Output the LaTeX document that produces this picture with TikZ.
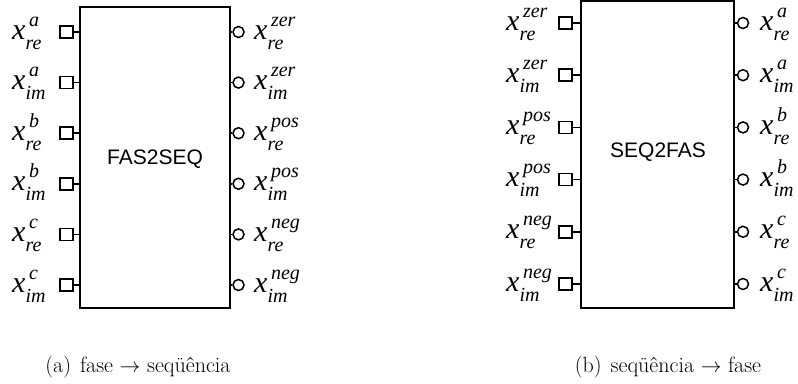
\documentclass[tikz,border=0pt]{standalone}
\usepackage{fontspec}
\newfontfamily\tms{Liberation Serif}
\newfontfamily\arl{Liberation Sans}
\newcommand\xlab[2]{{\fontsize{30}{30}\selectfont x}\rlap{\kern3.5pt\raisebox{13pt}{\fontsize{20}{20}\selectfont #1}}\raisebox{-10pt}{\fontsize{20}{20}\selectfont #2}}
\tikzset{
  blk/.style={draw, line width=1.6pt, inner sep=0pt},
  sqport/.style={draw, line width=1.6pt, minimum width=12.5pt, minimum height=12pt, inner sep=0pt},
  cport/.style={draw, circle, line width=1.5pt, minimum size=11pt, inner sep=0pt},
  stub/.style={line width=1.5pt},
  lab/.style={anchor=base west, inner sep=0pt, font=\tms\itshape},
  captxt/.style={anchor=base, inner sep=0pt, font=\fontsize{22}{26}\selectfont},
  blktitle/.style={font=\arl\fontsize{21}{24}\selectfont}
}
\begin{document}
\begin{tikzpicture}[x=1pt,y=-1pt]
\useasboundingbox (0,0) rectangle (798,383);
% left block
\node[blk, minimum width=150pt, minimum height=301pt] (A) at (155,157.5) {};
\node[blktitle] (At) at (155,159) {FAS2SEQ};
\foreach \i/\s/\t in {0/a/re,1/a/im,2/b/re,3/b/im,4/c/re,5/c/im}{
  \pgfmathsetmacro\py{32+50.6*\i}
  \node[sqport] (As\i) at (66.5,\py) {};
  \draw[stub] (As\i.east) -- (As\i.east -| A.west);
  \node[lab] (Al\i) at (12,\py+7) {\xlab{\s}{\t}};
}
\foreach \i/\s/\t in {0/zer/re,1/zer/im,2/pos/re,3/pos/im,4/neg/re,5/neg/im}{
  \pgfmathsetmacro\py{32+50.6*\i}
  \node[cport] (Ac\i) at (238.5,\py) {};
  \draw[stub] (Ac\i.west -| A.east) -- (Ac\i.west);
  \node[lab] (Ar\i) at (254,\py+7) {\xlab{\s}{\t}};
}
% right block
\node[blk, minimum width=153pt, minimum height=307pt] (B) at (657.5,154.5) {};
\node[blktitle] (Bt) at (658,152) {SEQ2FAS};
\foreach \i/\s/\t in {0/zer/re,1/zer/im,2/pos/re,3/pos/im,4/neg/re,5/neg/im}{
  \pgfmathsetmacro\py{23+52.2*\i}
  \node[sqport] (Bs\i) at (565.5,\py) {};
  \draw[stub] (Bs\i.east) -- (Bs\i.east -| B.west);
  \node[lab] (Bl\i) at (506,\py+7) {\xlab{\s}{\t}};
}
\foreach \i/\s/\t in {0/a/re,1/a/im,2/b/re,3/b/im,4/c/re,5/c/im}{
  \pgfmathsetmacro\py{23+52.2*\i}
  \node[cport] (Bc\i) at (743,\py) {};
  \draw[stub] (Bc\i.west -| B.east) -- (Bc\i.west);
  \node[lab] (Br\i) at (760,\py+7) {\xlab{\s}{\t}};
}
% captions
\node[captxt] (capa) at (138,372) {(a)\hspace{9pt}fase $\rightarrow$ seqüência};
\node[captxt] (capb) at (668,372) {(b)\hspace{9pt}seqüência $\rightarrow$ fase};
\end{tikzpicture}
\end{document}
